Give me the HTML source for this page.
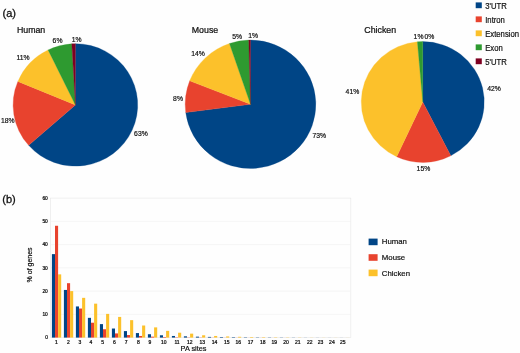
<!DOCTYPE html>
<html><head><meta charset="utf-8"><title>Figure</title>
<style>
html,body{margin:0;padding:0;background:#fefefe;}
body{width:520px;height:353px;overflow:hidden;}
svg{display:block;filter:blur(0.45px);font-family:"Liberation Sans",Arial,sans-serif;}
text{fill:#111;stroke:#111;stroke-width:0.2px;}
</style></head><body>
<svg width="520" height="353" viewBox="0 0 520 353">
<path d="M75.40,104.90 L75.40,43.70 A62.30,61.20 0 1 1 28.67,145.37 Z" fill="#004586" stroke="#004586" stroke-width="0.3"/>
<path d="M75.40,104.90 L28.67,145.37 A62.30,61.20 0 0 1 17.88,81.38 Z" fill="#e8432e" stroke="#e8432e" stroke-width="0.3"/>
<path d="M75.40,104.90 L17.88,81.38 A62.30,61.20 0 0 1 48.09,49.89 Z" fill="#fcc12b" stroke="#fcc12b" stroke-width="0.3"/>
<path d="M75.40,104.90 L48.09,49.89 A62.30,61.20 0 0 1 71.81,43.80 Z" fill="#2e9a30" stroke="#2e9a30" stroke-width="0.3"/>
<path d="M75.40,104.90 L71.81,43.80 A62.30,61.20 0 0 1 75.40,43.70 Z" fill="#7e0021" stroke="#7e0021" stroke-width="0.3"/>
<path d="M250.50,104.30 L250.50,40.10 A65.30,64.20 0 1 1 185.74,112.57 Z" fill="#004586" stroke="#004586" stroke-width="0.3"/>
<path d="M250.50,104.30 L185.74,112.57 A65.30,64.20 0 0 1 189.70,80.87 Z" fill="#e8432e" stroke="#e8432e" stroke-width="0.3"/>
<path d="M250.50,104.30 L189.70,80.87 A65.30,64.20 0 0 1 229.46,43.53 Z" fill="#fcc12b" stroke="#fcc12b" stroke-width="0.3"/>
<path d="M250.50,104.30 L229.46,43.53 A65.30,64.20 0 0 1 248.79,40.12 Z" fill="#2e9a30" stroke="#2e9a30" stroke-width="0.3"/>
<path d="M250.50,104.30 L248.79,40.12 A65.30,64.20 0 0 1 250.50,40.10 Z" fill="#7e0021" stroke="#7e0021" stroke-width="0.3"/>
<path d="M422.75,102.00 L422.75,41.60 A61.50,60.40 0 0 1 450.81,155.74 Z" fill="#004586" stroke="#004586" stroke-width="0.3"/>
<path d="M422.75,102.00 L450.81,155.74 A61.50,60.40 0 0 1 396.66,156.70 Z" fill="#e8432e" stroke="#e8432e" stroke-width="0.3"/>
<path d="M422.75,102.00 L396.66,156.70 A61.50,60.40 0 0 1 417.39,41.83 Z" fill="#fcc12b" stroke="#fcc12b" stroke-width="0.3"/>
<path d="M422.75,102.00 L417.39,41.83 A61.50,60.40 0 0 1 422.75,41.60 Z" fill="#2e9a30" stroke="#2e9a30" stroke-width="0.3"/>
<text x="2.5" y="17.3" font-size="11.0" text-anchor="start" style="stroke-width:0.3px">(a)</text>
<text x="2.3" y="203.0" font-size="11.0" text-anchor="start" style="stroke-width:0.3px">(b)</text>
<text x="16.9" y="33.0" font-size="8.8" text-anchor="start" style="stroke-width:0.24px">Human</text>
<text x="191.8" y="33.0" font-size="8.8" text-anchor="start" style="stroke-width:0.24px">Mouse</text>
<text x="364.3" y="33.0" font-size="8.8" text-anchor="start" style="stroke-width:0.24px">Chicken</text>
<text transform="translate(71.7,41.7) scale(0.96,1)" font-size="7.1" text-anchor="start" >1%</text>
<text transform="translate(52.6,42.8) scale(0.96,1)" font-size="7.1" text-anchor="start" >6%</text>
<text transform="translate(16.4,59.9) scale(0.96,1)" font-size="7.1" text-anchor="start" >11%</text>
<text transform="translate(1.0,123.4) scale(0.96,1)" font-size="7.1" text-anchor="start" >18%</text>
<text transform="translate(134.1,135.7) scale(0.96,1)" font-size="7.1" text-anchor="start" >63%</text>
<text transform="translate(232.3,39.2) scale(0.96,1)" font-size="7.1" text-anchor="start" >5%</text>
<text transform="translate(248.2,38.4) scale(0.96,1)" font-size="7.1" text-anchor="start" >1%</text>
<text transform="translate(191.2,55.7) scale(0.96,1)" font-size="7.1" text-anchor="start" >14%</text>
<text transform="translate(173.1,100.6) scale(0.96,1)" font-size="7.1" text-anchor="start" >8%</text>
<text transform="translate(312.5,137.7) scale(0.96,1)" font-size="7.1" text-anchor="start" >73%</text>
<text transform="translate(413.6,39.1) scale(0.96,1)" font-size="7.1" text-anchor="start" >1%</text>
<text transform="translate(424.5,39.1) scale(0.96,1)" font-size="7.1" text-anchor="start" >0%</text>
<text transform="translate(345.6,94.4) scale(0.96,1)" font-size="7.1" text-anchor="start" >41%</text>
<text transform="translate(487.2,90.6) scale(0.96,1)" font-size="7.1" text-anchor="start" >42%</text>
<text transform="translate(416.6,170.7) scale(0.96,1)" font-size="7.1" text-anchor="start" >15%</text>
<rect x="475.7" y="2.4" width="6.1" height="5.8" fill="#004586"/>
<text transform="translate(485.2,8.65) scale(0.93,1)" font-size="8.3" text-anchor="start" >3'UTR</text>
<rect x="475.7" y="16.4" width="6.1" height="5.8" fill="#e8432e"/>
<text transform="translate(485.2,22.65) scale(0.93,1)" font-size="8.3" text-anchor="start" >Intron</text>
<rect x="475.7" y="30.4" width="6.1" height="5.8" fill="#fcc12b"/>
<text transform="translate(485.2,36.65) scale(0.93,1)" font-size="8.3" text-anchor="start" >Extension</text>
<rect x="475.7" y="44.4" width="6.1" height="5.8" fill="#2e9a30"/>
<text transform="translate(485.2,50.65) scale(0.93,1)" font-size="8.3" text-anchor="start" >Exon</text>
<rect x="475.7" y="58.4" width="6.1" height="5.8" fill="#7e0021"/>
<text transform="translate(485.2,64.65) scale(0.93,1)" font-size="8.3" text-anchor="start" >5'UTR</text>
<rect x="50.5" y="198.1" width="300.3" height="139.50000000000003" fill="#fefefe" stroke="#e9e9e9" stroke-width="0.7"/>
<line x1="50.5" x2="350.8" y1="314.35" y2="314.35" stroke="#f0f0f0" stroke-width="0.7"/>
<line x1="50.5" x2="350.8" y1="291.10" y2="291.10" stroke="#f0f0f0" stroke-width="0.7"/>
<line x1="50.5" x2="350.8" y1="267.85" y2="267.85" stroke="#f0f0f0" stroke-width="0.7"/>
<line x1="50.5" x2="350.8" y1="244.60" y2="244.60" stroke="#f0f0f0" stroke-width="0.7"/>
<line x1="50.5" x2="350.8" y1="221.35" y2="221.35" stroke="#f0f0f0" stroke-width="0.7"/>
<text x="47.8" y="339.3" font-size="4.8" text-anchor="end" style="stroke-width:0.24px">0</text>
<text x="47.8" y="316.1" font-size="4.8" text-anchor="end" style="stroke-width:0.24px">10</text>
<text x="47.8" y="292.8" font-size="4.8" text-anchor="end" style="stroke-width:0.24px">20</text>
<text x="47.8" y="269.6" font-size="4.8" text-anchor="end" style="stroke-width:0.24px">30</text>
<text x="47.8" y="246.3" font-size="4.8" text-anchor="end" style="stroke-width:0.24px">40</text>
<text x="47.8" y="223.0" font-size="4.8" text-anchor="end" style="stroke-width:0.24px">50</text>
<text x="47.8" y="199.8" font-size="4.8" text-anchor="end" style="stroke-width:0.24px">60</text>
<rect x="51.90" y="254.13" width="3.1" height="83.47" fill="#004586"/>
<rect x="55.00" y="225.77" width="3.1" height="111.83" fill="#e8432e"/>
<rect x="58.10" y="274.36" width="3.1" height="63.24" fill="#fcc12b"/>
<text x="56.5" y="343.8" font-size="5.0" text-anchor="middle" style="stroke-width:0.24px">1</text>
<rect x="63.90" y="289.94" width="3.1" height="47.66" fill="#004586"/>
<rect x="67.00" y="283.19" width="3.1" height="54.41" fill="#e8432e"/>
<rect x="70.10" y="291.10" width="3.1" height="46.50" fill="#fcc12b"/>
<text x="68.3" y="343.8" font-size="5.0" text-anchor="middle" style="stroke-width:0.24px">2</text>
<rect x="75.90" y="306.44" width="3.1" height="31.16" fill="#004586"/>
<rect x="79.00" y="308.54" width="3.1" height="29.06" fill="#e8432e"/>
<rect x="82.10" y="297.84" width="3.1" height="39.76" fill="#fcc12b"/>
<text x="80.0" y="343.8" font-size="5.0" text-anchor="middle" style="stroke-width:0.24px">3</text>
<rect x="87.90" y="317.84" width="3.1" height="19.76" fill="#004586"/>
<rect x="91.00" y="322.72" width="3.1" height="14.88" fill="#e8432e"/>
<rect x="94.10" y="303.66" width="3.1" height="33.95" fill="#fcc12b"/>
<text x="90.9" y="343.8" font-size="5.0" text-anchor="middle" style="stroke-width:0.24px">4</text>
<rect x="99.90" y="324.12" width="3.1" height="13.49" fill="#004586"/>
<rect x="103.00" y="329.23" width="3.1" height="8.37" fill="#e8432e"/>
<rect x="106.10" y="313.88" width="3.1" height="23.72" fill="#fcc12b"/>
<text x="102.6" y="343.8" font-size="5.0" text-anchor="middle" style="stroke-width:0.24px">5</text>
<rect x="111.90" y="328.53" width="3.1" height="9.07" fill="#004586"/>
<rect x="115.00" y="333.42" width="3.1" height="4.19" fill="#e8432e"/>
<rect x="118.10" y="316.91" width="3.1" height="20.69" fill="#fcc12b"/>
<text x="114.3" y="343.8" font-size="5.0" text-anchor="middle" style="stroke-width:0.24px">6</text>
<rect x="123.90" y="331.09" width="3.1" height="6.51" fill="#004586"/>
<rect x="127.00" y="335.04" width="3.1" height="2.56" fill="#e8432e"/>
<rect x="130.10" y="320.16" width="3.1" height="17.44" fill="#fcc12b"/>
<text x="126.2" y="343.8" font-size="5.0" text-anchor="middle" style="stroke-width:0.24px">7</text>
<rect x="135.90" y="333.07" width="3.1" height="4.53" fill="#004586"/>
<rect x="139.00" y="335.97" width="3.1" height="1.63" fill="#e8432e"/>
<rect x="142.10" y="325.51" width="3.1" height="12.09" fill="#fcc12b"/>
<text x="138.5" y="343.8" font-size="5.0" text-anchor="middle" style="stroke-width:0.24px">8</text>
<rect x="147.90" y="334.23" width="3.1" height="3.37" fill="#004586"/>
<rect x="151.00" y="336.67" width="3.1" height="0.93" fill="#e8432e"/>
<rect x="154.10" y="327.37" width="3.1" height="10.23" fill="#fcc12b"/>
<text x="149.8" y="343.8" font-size="5.0" text-anchor="middle" style="stroke-width:0.24px">9</text>
<rect x="159.90" y="335.28" width="3.1" height="2.33" fill="#004586"/>
<rect x="163.00" y="337.02" width="3.1" height="0.58" fill="#e8432e"/>
<rect x="166.10" y="330.86" width="3.1" height="6.74" fill="#fcc12b"/>
<text x="163.8" y="343.8" font-size="5.0" text-anchor="middle" style="stroke-width:0.24px">10</text>
<rect x="171.90" y="335.97" width="3.1" height="1.63" fill="#004586"/>
<rect x="175.00" y="337.25" width="3.1" height="0.35" fill="#e8432e"/>
<rect x="178.10" y="332.72" width="3.1" height="4.88" fill="#fcc12b"/>
<text x="177.0" y="343.8" font-size="5.0" text-anchor="middle" style="stroke-width:0.24px">11</text>
<rect x="183.90" y="336.32" width="3.1" height="1.28" fill="#004586"/>
<rect x="187.00" y="337.37" width="3.1" height="0.23" fill="#e8432e"/>
<rect x="190.10" y="333.65" width="3.1" height="3.95" fill="#fcc12b"/>
<text x="189.7" y="343.8" font-size="5.0" text-anchor="middle" style="stroke-width:0.24px">12</text>
<rect x="195.90" y="336.67" width="3.1" height="0.93" fill="#004586"/>
<rect x="199.00" y="337.41" width="3.1" height="0.19" fill="#e8432e"/>
<rect x="202.10" y="335.28" width="3.1" height="2.33" fill="#fcc12b"/>
<text x="202.3" y="343.8" font-size="5.0" text-anchor="middle" style="stroke-width:0.24px">13</text>
<rect x="207.90" y="336.90" width="3.1" height="0.70" fill="#004586"/>
<rect x="211.00" y="337.48" width="3.1" height="0.12" fill="#e8432e"/>
<rect x="214.10" y="335.97" width="3.1" height="1.63" fill="#fcc12b"/>
<text x="214.6" y="343.8" font-size="5.0" text-anchor="middle" style="stroke-width:0.24px">14</text>
<rect x="219.90" y="337.02" width="3.1" height="0.58" fill="#004586"/>
<rect x="223.00" y="337.51" width="3.1" height="0.09" fill="#e8432e"/>
<rect x="226.10" y="336.44" width="3.1" height="1.16" fill="#fcc12b"/>
<text x="226.7" y="343.8" font-size="5.0" text-anchor="middle" style="stroke-width:0.24px">15</text>
<rect x="231.90" y="337.14" width="3.1" height="0.47" fill="#004586"/>
<rect x="235.00" y="337.53" width="3.1" height="0.07" fill="#e8432e"/>
<rect x="238.10" y="336.79" width="3.1" height="0.81" fill="#fcc12b"/>
<text x="238.3" y="343.8" font-size="5.0" text-anchor="middle" style="stroke-width:0.24px">16</text>
<rect x="243.90" y="337.25" width="3.1" height="0.35" fill="#004586"/>
<rect x="247.00" y="337.55" width="3.1" height="0.05" fill="#e8432e"/>
<rect x="250.10" y="337.02" width="3.1" height="0.58" fill="#fcc12b"/>
<text x="250.6" y="343.8" font-size="5.0" text-anchor="middle" style="stroke-width:0.24px">17</text>
<rect x="255.90" y="337.32" width="3.1" height="0.28" fill="#004586"/>
<rect x="259.00" y="337.55" width="3.1" height="0.05" fill="#e8432e"/>
<rect x="262.10" y="337.14" width="3.1" height="0.47" fill="#fcc12b"/>
<text x="262.7" y="343.8" font-size="5.0" text-anchor="middle" style="stroke-width:0.24px">18</text>
<rect x="267.90" y="337.37" width="3.1" height="0.23" fill="#004586"/>
<rect x="271.00" y="337.58" width="3.1" height="0.02" fill="#e8432e"/>
<rect x="274.10" y="337.25" width="3.1" height="0.35" fill="#fcc12b"/>
<text x="274.3" y="343.8" font-size="5.0" text-anchor="middle" style="stroke-width:0.24px">19</text>
<rect x="279.90" y="337.41" width="3.1" height="0.19" fill="#004586"/>
<rect x="283.00" y="337.58" width="3.1" height="0.02" fill="#e8432e"/>
<rect x="286.10" y="337.37" width="3.1" height="0.23" fill="#fcc12b"/>
<text x="286.1" y="343.8" font-size="5.0" text-anchor="middle" style="stroke-width:0.24px">20</text>
<rect x="291.90" y="337.46" width="3.1" height="0.14" fill="#004586"/>
<rect x="298.10" y="337.41" width="3.1" height="0.19" fill="#fcc12b"/>
<text x="297.7" y="343.8" font-size="5.0" text-anchor="middle" style="stroke-width:0.24px">21</text>
<rect x="303.90" y="337.51" width="3.1" height="0.09" fill="#004586"/>
<rect x="310.10" y="337.48" width="3.1" height="0.12" fill="#fcc12b"/>
<text x="309.8" y="343.8" font-size="5.0" text-anchor="middle" style="stroke-width:0.24px">22</text>
<rect x="315.90" y="337.53" width="3.1" height="0.07" fill="#004586"/>
<rect x="322.10" y="337.51" width="3.1" height="0.09" fill="#fcc12b"/>
<text x="320.5" y="343.8" font-size="5.0" text-anchor="middle" style="stroke-width:0.24px">23</text>
<rect x="327.90" y="337.55" width="3.1" height="0.05" fill="#004586"/>
<rect x="334.10" y="337.53" width="3.1" height="0.07" fill="#fcc12b"/>
<text x="331.9" y="343.8" font-size="5.0" text-anchor="middle" style="stroke-width:0.24px">24</text>
<rect x="339.90" y="337.55" width="3.1" height="0.05" fill="#004586"/>
<rect x="346.10" y="337.55" width="3.1" height="0.05" fill="#fcc12b"/>
<text x="342.7" y="343.8" font-size="5.0" text-anchor="middle" style="stroke-width:0.24px">25</text>
<text x="180.6" y="351.3" font-size="7.3" text-anchor="start" >PA sites</text>
<text transform="translate(31.9,282.4) rotate(-90)" font-size="7.0">% of genes</text>
<rect x="368.6" y="238.6" width="9" height="6.6" fill="#004586"/>
<text x="381.8" y="244.1" font-size="7.8" text-anchor="start" >Human</text>
<rect x="368.6" y="254.2" width="9" height="6.6" fill="#e8432e"/>
<text x="381.8" y="260.2" font-size="7.8" text-anchor="start" >Mouse</text>
<rect x="368.6" y="269.6" width="9" height="6.6" fill="#fcc12b"/>
<text x="381.8" y="275.8" font-size="7.8" text-anchor="start" >Chicken</text>
</svg>
</body></html>
